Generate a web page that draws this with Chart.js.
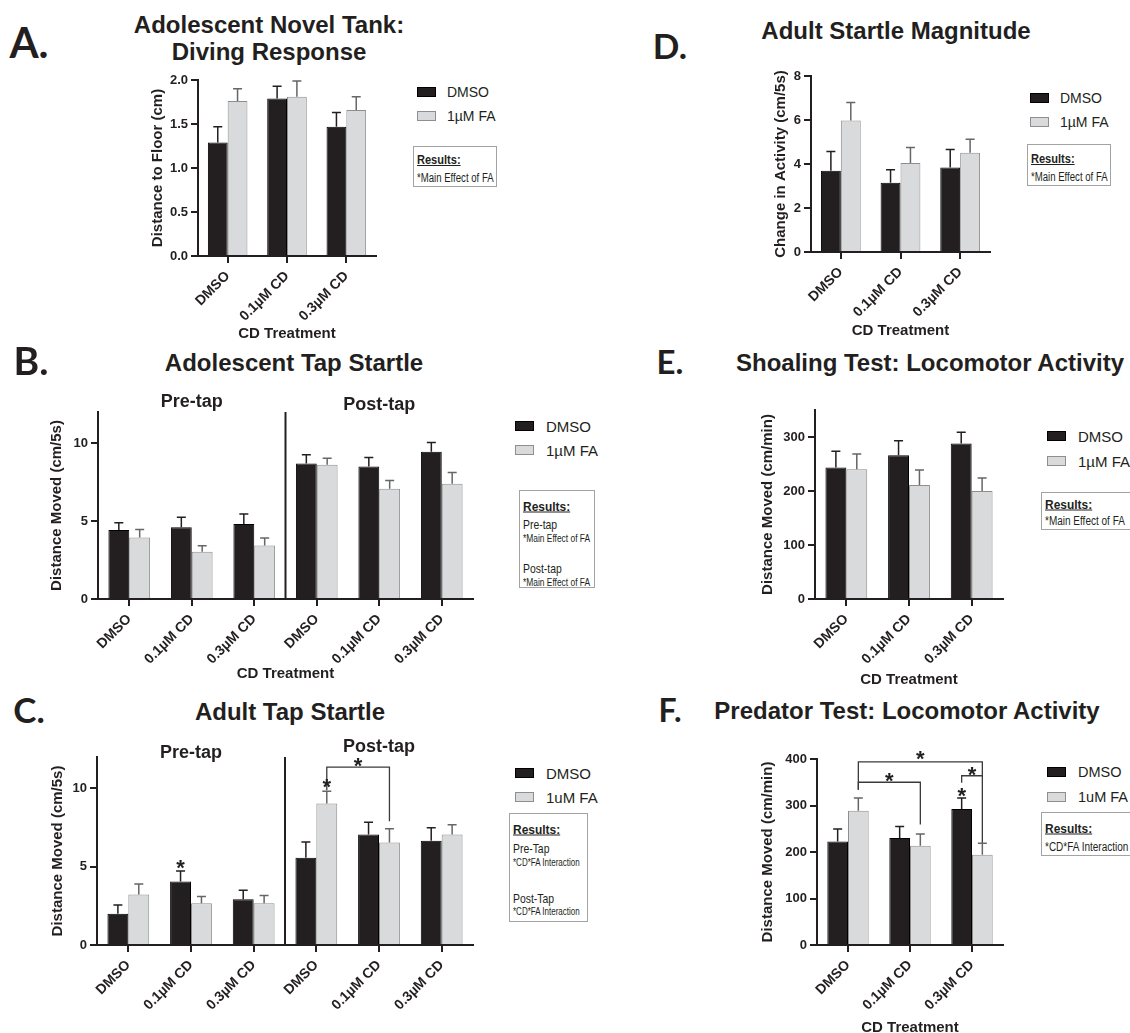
<!DOCTYPE html>
<html>
<head>
<meta charset="utf-8">
<script src="https://cdn.jsdelivr.net/npm/chart.js@4.4.0/dist/chart.umd.min.js"></script>
<style>
  body { margin: 0; width: 1130px; height: 1033px; position: relative; overflow: hidden; background: #fff;
         font-family: "Liberation Sans", Arial, sans-serif; color: #231f20; }
  canvas { position: absolute; }
  .c { position: absolute; white-space: nowrap; line-height: 1; transform: translate(-50%, -50%); }
  .title { font-weight: bold; font-size: 24px; }
  .letter { font-family: Lato, "Open Sans", sans-serif; font-weight: 700; }
  .l { position: absolute; white-space: nowrap; line-height: 1; transform: translateY(-50%); }
  .sq { position: absolute; width: 19px; height: 10px; box-sizing: border-box; }
  .res { position: absolute; border: 1px solid #a3a3a3; box-sizing: border-box; background: #fff; }
  .res .l { transform-origin: left center; }
</style>
</head>
<body>
<script>
// categories
const groups = ['DMSO', '0.1µM CD', '0.3µM CD'];
const tapGroups = groups.concat(groups);
const namesMu = ['DMSO', '1µM FA'];
const namesU = ['DMSO', '1uM FA'];

// A. adolescent novel tank (mean, sem)
const novelDmso = [1.29, 1.79, 1.47];
const novelDmsoSem = [0.18, 0.14, 0.16];
const novelFa = [1.76, 1.81, 1.66];
const novelFaSem = [0.14, 0.18, 0.15];
const novelTicks = [0, 0.5, 1, 1.5, 2];

// B. adolescent tap startle (pre x3, post x3)
const adoTapDmso = [4.43, 4.61, 4.82, 8.70, 8.51, 9.45];
const adoTapDmsoSem = [0.47, 0.64, 0.64, 0.55, 0.57, 0.59];
const adoTapFa = [3.94, 3.03, 3.43, 8.61, 7.08, 7.40];
const adoTapFaSem = [0.52, 0.38, 0.49, 0.43, 0.53, 0.72];
const tapTicks = [0, 5, 10];

// C. adult tap startle
const adultTapDmso = [1.99, 4.05, 2.92, 5.57, 7.06, 6.65];
const adultTapDmsoSem = [0.57, 0.67, 0.58, 1.00, 0.78, 0.83];
const adultTapFa = [3.22, 2.67, 2.67, 9.03, 6.55, 7.06];
const adultTapFaSem = [0.68, 0.42, 0.49, 0.78, 0.87, 0.61];

// D. adult startle magnitude
const magDmso = [3.69, 3.15, 3.84];
const magDmsoSem = [0.88, 0.59, 0.82];
const magFa = [5.98, 4.04, 4.51];
const magFaSem = [0.81, 0.71, 0.62];
const magTicks = [0, 2, 4, 6, 8];

// E. shoaling test
const shoalDmso = [243.6, 266, 288];
const shoalDmsoSem = [30, 27, 21];
const shoalFa = [240.5, 211, 200];
const shoalFaSem = [28, 28, 24];
const shoalTicks = [0, 100, 200, 300];

// F. predator test
const predDmso = [222.8, 230, 292.4];
const predDmsoSem = [26.7, 25, 23.6];
const predFa = [288.8, 213.5, 194];
const predFaSem = [27.2, 25.2, 24.6];
const predTicks = [0, 100, 200, 300, 400];

// significance marks: bars are [datasetIndex, categoryIndex], y in data units
const adultTapStars = [
  { bars: [[0, 1]], y: 5.3 },
  { bars: [[1, 3]], y: 10.45 },
  { bars: [[1, 3], [1, 4]], y: 11.8 }
];
const adultTapBrackets = [
  { from: [1, 3], to: [1, 4], top: 11.36, fromEnd: 9.87, toEnd: 7.9 }
];
const predStars = [
  { bars: [[0, 2]], y: 334 },
  { bars: [[1, 0], [1, 2]], y: 413 },
  { bars: [[1, 0], [1, 1]], y: 367 },
  { bars: [[0, 2], [1, 2]], y: 380 }
];
const predBrackets = [
  { from: [1, 0], to: [1, 2], top: 394, fromEnd: 334, toEnd: 220 },
  { from: [1, 0], to: [1, 1], top: 350, fromEnd: 334, toEnd: 259 },
  { from: [0, 2], to: [1, 2], top: 364, fromEnd: 349, toEnd: 364 }
];
const adoTapHeaders = [{ text: 'Pre-tap', cats: [0, 2], y: 12.66 }, { text: 'Post-tap', cats: [3, 5], y: 12.45 }];
const adultTapHeaders = [{ text: 'Pre-tap', cats: [0, 2], y: 12.27 }, { text: 'Post-tap', cats: [3, 5], y: 12.65 }];

const INK = '#231f20';
const DARK = '#231f20';
const LIGHT = '#d9dadb';
const LIGHT_EDGE = '#8e8e8e';
Chart.defaults.font.family = '"Liberation Sans", Arial, sans-serif';
Chart.defaults.color = INK;

const extrasPlugin = {
  id: 'extras',
  afterDatasetsDraw(chart, args, opts) {
    const { ctx, chartArea, scales: { x, y } } = chart;
    const barX = ([d, i]) => chart.getDatasetMeta(d).data[i].x;
    ctx.save();
    // upper error bars
    chart.data.datasets.forEach((ds, d) => {
      chart.getDatasetMeta(d).data.forEach((bar, i) => {
        const yTop = y.getPixelForValue(ds.data[i] + ds.sem[i]);
        ctx.strokeStyle = ds.whisker;
        ctx.lineWidth = 1.5;
        ctx.beginPath();
        ctx.moveTo(bar.x, bar.y);
        ctx.lineTo(bar.x, yTop);
        ctx.moveTo(bar.x - 4.5, yTop);
        ctx.lineTo(bar.x + 4.5, yTop);
        ctx.stroke();
      });
    });
    if (opts.divider) {
      const xm = (x.getPixelForValue(2) + x.getPixelForValue(3)) / 2;
      ctx.strokeStyle = INK;
      ctx.lineWidth = 2;
      ctx.beginPath();
      ctx.moveTo(xm, chartArea.top);
      ctx.lineTo(xm, chartArea.bottom);
      ctx.stroke();
    }
    ctx.fillStyle = INK;
    (opts.headers || []).forEach(h => {
      const cx = (x.getPixelForValue(h.cats[0]) + x.getPixelForValue(h.cats[1])) / 2;
      ctx.font = 'bold 18px "Liberation Sans", Arial, sans-serif';
      ctx.textAlign = 'center';
      ctx.textBaseline = 'middle';
      ctx.fillText(h.text, cx, y.getPixelForValue(h.y));
    });
    (opts.brackets || []).forEach(b => {
      const x1 = barX(b.from), x2 = barX(b.to);
      const yt = y.getPixelForValue(b.top);
      ctx.strokeStyle = '#3a3a3a';
      ctx.lineWidth = 1.3;
      ctx.beginPath();
      ctx.moveTo(x1, y.getPixelForValue(b.fromEnd));
      ctx.lineTo(x1, yt);
      ctx.lineTo(x2, yt);
      ctx.lineTo(x2, y.getPixelForValue(b.toEnd));
      ctx.stroke();
    });
    (opts.stars || []).forEach(s => {
      const cx = s.bars.reduce((a, b) => a + barX(b), 0) / s.bars.length;
      ctx.font = 'bold 22px "Liberation Sans", Arial, sans-serif';
      ctx.textAlign = 'center';
      ctx.textBaseline = 'alphabetic';
      ctx.fillText('*', cx, y.getPixelForValue(s.y) + 0.6 * 22);
    });
    ctx.restore();
  }
};

function buildChart(p) {
  const padTop = p.padTop || 14;
  const padRight = 14;
  const left = p.yTitleX - 9;
  const top = p.area.t - padTop;
  const bottom = p.xTitleY ? p.xTitleY + 10 : p.area.b + 80;
  const width = p.area.r + padRight - left;
  const height = bottom - top;
  const yw = p.area.l - left;
  const xh = bottom - p.area.b;
  const canvas = document.createElement('canvas');
  canvas.width = width;
  canvas.height = height;
  Object.assign(canvas.style, { left: left + 'px', top: top + 'px', width: width + 'px', height: height + 'px' });
  document.body.appendChild(canvas);

  new Chart(canvas, {
    type: 'bar',
    data: {
      labels: p.labels,
      datasets: [
        { label: p.names[0], data: p.dmso, sem: p.dmsoSem, backgroundColor: DARK, borderColor: '#000', borderWidth: 1, whisker: INK },
        { label: p.names[1], data: p.fa, sem: p.faSem, backgroundColor: LIGHT, borderColor: LIGHT_EDGE, borderWidth: 1, whisker: '#666' }
      ]
    },
    options: {
      responsive: false,
      animation: false,
      devicePixelRatio: 1,
      layout: { padding: { top: padTop, right: padRight, left: 0, bottom: 0 } },
      datasets: { bar: { categoryPercentage: 0.667, barPercentage: 1 } },
      plugins: {
        legend: { display: false },
        tooltip: { enabled: false },
        extras: { divider: p.divider, headers: p.headers, brackets: p.brackets, stars: p.stars }
      },
      scales: {
        x: {
          offset: true,
          grid: { drawOnChartArea: false, offset: false, tickLength: 7, color: INK, lineWidth: 2 },
          border: { color: INK, width: 2 },
          ticks: { minRotation: 45, maxRotation: 45, autoSkip: false, padding: 5, color: INK, font: { size: 14, weight: 'bold' } },
          title: { display: !!p.xTitle, text: p.xTitle, padding: 0, color: INK, font: { size: 15, weight: 'bold' } },
          afterFit: s => { s.height = xh; }
        },
        y: {
          min: 0,
          max: p.max,
          afterBuildTicks: s => { s.ticks = p.ticks.map(v => ({ value: v })); },
          grid: { drawOnChartArea: false, tickLength: 7, color: INK, lineWidth: 2 },
          border: { color: INK, width: 2 },
          ticks: { padding: 3, color: INK, font: { size: 13, weight: 'bold' }, callback: p.fmt || (v => String(v)) },
          title: { display: true, text: p.yTitle, padding: 0, color: INK, font: { size: 15, weight: 'bold' } },
          afterFit: s => { s.width = yw; }
        }
      }
    },
    plugins: [extrasPlugin]
  });
}

function text(str, cls, cx, cy, size) {
  const el = document.createElement('div');
  el.className = 'c ' + cls;
  el.textContent = str;
  el.style.left = cx + 'px';
  el.style.top = cy + 'px';
  if (size) el.style.fontSize = size + 'px';
  document.body.appendChild(el);
}

function legend(names, sqX, y1, y2, textX, size) {
  [[names[0], y1, DARK, '#000'], [names[1], y2, LIGHT, LIGHT_EDGE]].forEach(([name, cy, fill, edge]) => {
    const sq = document.createElement('div');
    sq.className = 'sq';
    Object.assign(sq.style, { left: sqX + 'px', top: (cy - 5) + 'px', background: fill, border: '1px solid ' + edge });
    document.body.appendChild(sq);
    const t = document.createElement('div');
    t.className = 'l';
    t.textContent = name;
    Object.assign(t.style, { left: textX + 'px', top: cy + 'px', fontSize: size + 'px' });
    document.body.appendChild(t);
  });
}

function results(l, t, r, b, lines) {
  const box = document.createElement('div');
  box.className = 'res';
  Object.assign(box.style, { left: l + 'px', top: t + 'px', width: (r - l) + 'px', height: (b - t) + 'px' });
  lines.forEach(([str, cy, kind, size]) => {
    const el = document.createElement('div');
    el.className = 'l';
    el.textContent = str;
    el.style.left = '3px';
    el.style.top = (cy - t) + 'px';
    el.style.fontSize = size + 'px';
    if (kind === 'head') {
      el.style.fontWeight = 'bold';
      el.style.textDecoration = 'underline';
      el.style.transform = 'translateY(-50%) scaleX(0.92)';
    } else {
      el.style.transform = 'translateY(-50%) scaleX(0.8)';
    }
    box.appendChild(el);
  });
  document.body.appendChild(box);
}

// panel A
buildChart({ labels: groups, names: namesMu, dmso: novelDmso, dmsoSem: novelDmsoSem, fa: novelFa, faSem: novelFaSem,
  ticks: novelTicks, max: 2, fmt: v => v.toFixed(1), yTitle: 'Distance to Floor (cm)', xTitle: 'CD Treatment',
  area: { l: 198, r: 376, t: 80, b: 256 }, yTitleX: 158, xTitleY: 333 });
text('A.', 'letter', 29, 42, 42);
text('Adolescent Novel Tank:', 'title', 269, 25);
text('Diving Response', 'title', 269, 52);
legend(namesMu, 417, 92, 116, 447, 14);
results(413, 146, 497, 187, [['Results:', 159, 'head', 12], ['*Main Effect of FA', 177, 'sub', 12]]);

// panel B
buildChart({ labels: tapGroups, names: namesMu, dmso: adoTapDmso, dmsoSem: adoTapDmsoSem, fa: adoTapFa, faSem: adoTapFaSem,
  ticks: tapTicks, max: 12, yTitle: 'Distance Moved (cm/5s)', xTitle: 'CD Treatment', divider: true, headers: adoTapHeaders,
  area: { l: 98, r: 473, t: 412, b: 599 }, yTitleX: 57, xTitleY: 673, padTop: 30 });
text('B.', 'letter', 31, 360, 39);
text('Adolescent Tap Startle', 'title', 294, 363);
legend(namesMu, 515, 426, 450, 546, 15);
results(519, 490, 595, 588, [['Results:', 505, 'head', 13], ['Pre-tap', 523, 'sub', 13], ['*Main Effect of FA', 537, 'sub', 10.5],
  ['Post-tap', 567, 'sub', 13], ['*Main Effect of FA', 581, 'sub', 10.5]]);

// panel C
buildChart({ labels: tapGroups, names: namesU, dmso: adultTapDmso, dmsoSem: adultTapDmsoSem, fa: adultTapFa, faSem: adultTapFaSem,
  ticks: tapTicks, max: 12, yTitle: 'Distance Moved (cm/5s)', divider: true, headers: adultTapHeaders,
  brackets: adultTapBrackets, stars: adultTapStars,
  area: { l: 97, r: 473, t: 757, b: 945 }, yTitleX: 58, padTop: 30 });
text('C.', 'letter', 29, 709, 35);
text('Adult Tap Startle', 'title', 290, 712);
legend(namesU, 515, 773, 797, 546, 15);
results(509, 813, 588, 922, [['Results:', 828, 'head', 13], ['Pre-Tap', 847, 'sub', 13], ['*CD*FA Interaction', 862, 'sub', 10],
  ['Post-Tap', 897, 'sub', 13], ['*CD*FA Interaction', 911, 'sub', 10]]);

// panel D
buildChart({ labels: groups, names: namesMu, dmso: magDmso, dmsoSem: magDmsoSem, fa: magFa, faSem: magFaSem,
  ticks: magTicks, max: 8, yTitle: 'Change in Activity (cm/5s)', xTitle: 'CD Treatment',
  area: { l: 811, r: 990, t: 76, b: 252 }, yTitleX: 781, xTitleY: 330 });
text('D.', 'letter', 670, 45, 35);
text('Adult Startle Magnitude', 'title', 896, 31);
legend(namesMu, 1030, 98, 122, 1060, 14);
results(1027, 144, 1111, 186, [['Results:', 158, 'head', 12], ['*Main Effect of FA', 176, 'sub', 12]]);

// panel E
buildChart({ labels: groups, names: namesMu, dmso: shoalDmso, dmsoSem: shoalDmsoSem, fa: shoalFa, faSem: shoalFaSem,
  ticks: shoalTicks, max: 350, yTitle: 'Distance Moved (cm/min)', xTitle: 'CD Treatment',
  area: { l: 815, r: 1003, t: 410, b: 599 }, yTitleX: 768, xTitleY: 679 });
text('E.', 'letter', 670, 361, 33);
text('Shoaling Test: Locomotor Activity', 'title', 930, 363);
legend(namesMu, 1047, 436, 461, 1078, 15);
results(1041, 492, 1140, 530, [['Results:', 503, 'head', 13], ['*Main Effect of FA', 520, 'sub', 12.5]]);

// panel F
buildChart({ labels: groups, names: namesU, dmso: predDmso, dmsoSem: predDmsoSem, fa: predFa, faSem: predFaSem,
  ticks: predTicks, max: 400, yTitle: 'Distance Moved (cm/min)', xTitle: 'CD Treatment',
  brackets: predBrackets, stars: predStars,
  area: { l: 817, r: 1003, t: 759, b: 945 }, yTitleX: 768, xTitleY: 1027, padTop: 22 });
text('F.', 'letter', 670, 710, 32);
text('Predator Test: Locomotor Activity', 'title', 907, 711);
legend(namesU, 1047, 772, 797, 1078, 14.5);
results(1041, 812, 1140, 856, [['Results:', 827, 'head', 13], ['*CD*FA Interaction', 846, 'sub', 12.5]]);
</script>
</body>
</html>
